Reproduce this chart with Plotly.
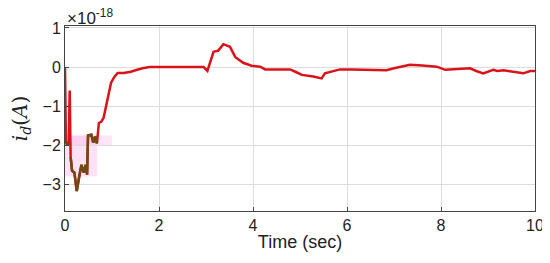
import plotly.graph_objects as go

# current i_d, in units of 1e-18 A
t = [0, 0.02, 0.05, 0.08, 0.1, 0.12, 0.15, 0.2, 0.25, 0.3, 0.35, 0.4, 0.44, 0.47, 0.49,
     0.56, 0.6, 0.64, 0.68, 0.72, 0.77, 0.82, 0.87, 0.92, 0.98, 1.05, 1.12, 1.25, 1.4,
     1.5, 1.65, 1.8, 2.0, 2.5, 2.95, 3.03, 3.1, 3.16, 3.26, 3.37, 3.45, 3.51, 3.62,
     3.79, 3.97, 4.15, 4.26, 4.5, 4.79, 4.9, 5.04, 5.28, 5.46, 5.53, 5.6, 5.71, 5.85,
     6.1, 6.49, 6.84, 7.0, 7.13, 7.34, 7.6, 7.91, 8.09, 8.3, 8.62, 8.75, 8.9, 9.11,
     9.2, 9.33, 9.54, 9.75, 9.9, 10.0]
i_d = [0, -1.9, -2.0, -1.95, -0.6, -2.3, -2.65, -2.7, -3.17, -2.79, -2.5, -2.7, -2.5, -2.75,
       -1.75, -1.73, -1.93, -1.78, -1.95, -1.43, -1.4, -1.3, -1.0, -0.7, -0.4, -0.25,
       -0.15, -0.15, -0.12, -0.08, -0.03, 0, 0, 0, 0, -0.1, 0.2, 0.39, 0.42, 0.585, 0.55,
       0.52, 0.26, 0.11, 0.035, 0.01, -0.06, -0.06, -0.06, -0.12, -0.2, -0.24, -0.29,
       -0.16, -0.14, -0.12, -0.06, -0.06, -0.07, -0.08, -0.03, 0.0, 0.06, 0.04, 0.01,
       -0.07, -0.05, -0.03, -0.1, -0.16, -0.07, -0.1, -0.08, -0.12, -0.16, -0.1, -0.1]

# part of the trace inside the highlighted box
box_t = [0, 0.68]
box_y = [-2.8, -1.75]
dark = [v if (tt <= 0.7 and v <= -1.7) else None for tt, v in zip(t, i_d)]

font = "Liberation Sans, Arial"
fig = go.Figure()
fig.add_shape(type="rect", x0=box_t[0], x1=1.0, y0=-2.0, y1=box_y[1],
              fillcolor="rgba(255,170,230,0.3)", line_width=0, layer="below")
fig.add_shape(type="rect", x0=box_t[0], x1=box_t[1], y0=box_y[0], y1=box_y[1],
              fillcolor="rgba(255,170,230,0.35)", line_width=0, layer="below")
fig.add_trace(go.Scatter(x=t, y=i_d, mode="lines", line=dict(color="#d8141a", width=2.5)))
fig.add_trace(go.Scatter(x=t, y=dark, mode="lines", line=dict(color="#6e4a12", width=2.5),
                         connectgaps=False))

ax = dict(showline=True, linecolor="#444", linewidth=1, mirror=True, ticks="inside",
          ticklen=4, tickcolor="#444", showgrid=True, gridcolor="#dcdcdc", zeroline=False,
          automargin=False, tickfont=dict(family=font, size=16, color="#222"))
fig.update_xaxes(ax, range=[0, 10], dtick=2, ticklabeloverflow="allow",
                 title=dict(text="Time (sec)", font=dict(family=font, size=18, color="#222"),
                            standoff=2))
fig.update_yaxes(ax, range=[-3.68, 1.05], tickvals=[-3, -2, -1, 0, 1],
                 title=dict(text="<i>i<sub>d</sub></i>(<i>A</i>)",
                            font=dict(family="DejaVu Serif, Liberation Serif", size=20, color="#222"),
                            standoff=10))
fig.add_annotation(x=0, y=1.0, xref="paper", yref="paper", xanchor="left", yanchor="bottom",
                   text="×10<sup>-18</sup>", showarrow=False, yshift=-4,
                   font=dict(family=font, size=17, color="#222"))
# page body has an 8px margin, so the plot area is shifted to land where the reference has it
fig.update_layout(width=542, height=247, margin=dict(l=57, r=15, t=18, b=44),
                  plot_bgcolor="white", paper_bgcolor="white", showlegend=False)
fig.write_html("out.html")
